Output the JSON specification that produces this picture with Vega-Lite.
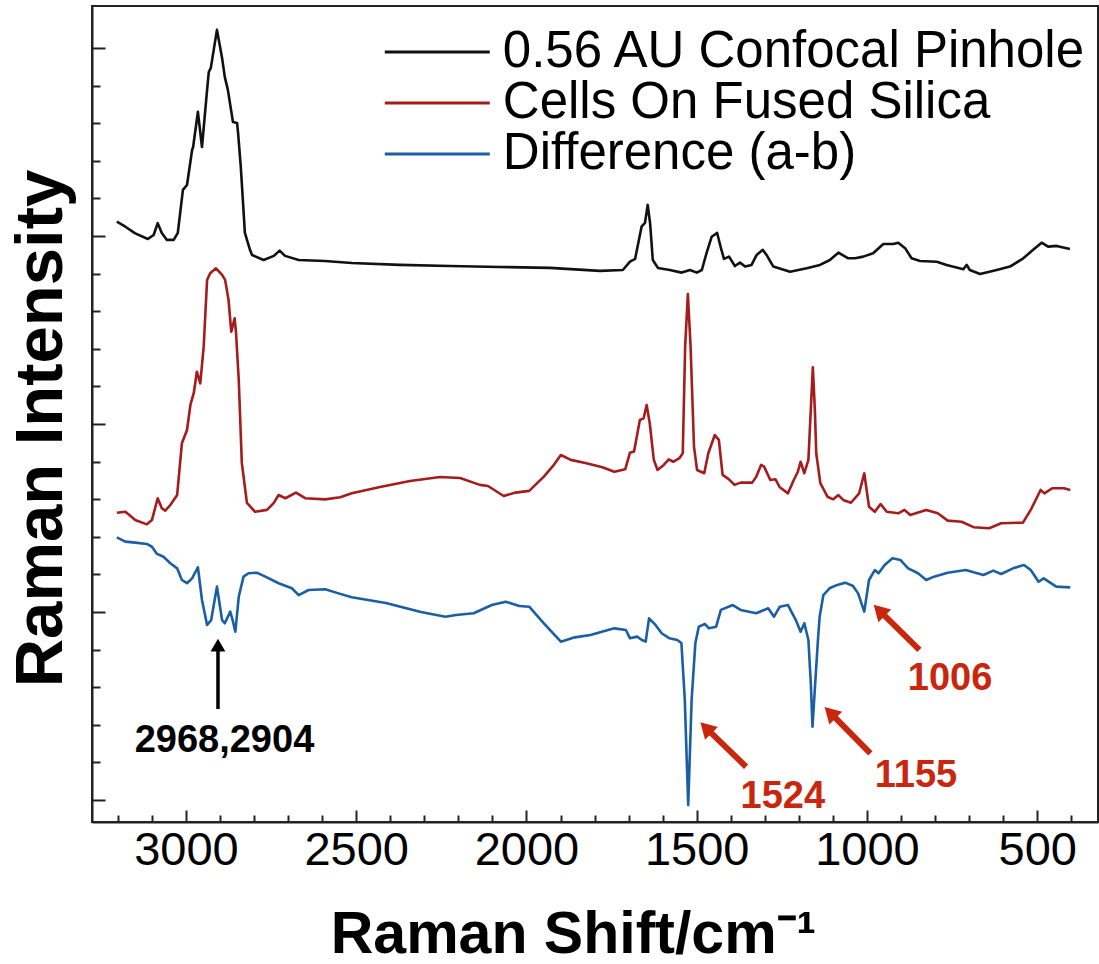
{
  "$schema": "https://vega.github.io/schema/vega-lite/v6.json",
  "width": 1006,
  "height": 816,
  "autosize": {"type": "none"},
  "padding": {"left": 92, "top": 6, "right": 1, "bottom": 142},
  "background": "white",
  "config": {
    "view": {"stroke": "#222222", "strokeWidth": 2},
    "font": "Liberation Sans"
  },
  "datasets": {
    "blackArrow": [{"x": 2906, "y": 484, "x2": 2906, "y2": 809}],
    "blackHead": [{"x": 2906, "y": 824}],
    "redArrows": [
      {"x": 1355, "y": 177, "x2": 1473, "y2": 384},
      {"x": 990, "y": 248, "x2": 1108, "y2": 465},
      {"x": 846, "y": 798, "x2": 964, "y2": 1009}
    ],
    "redHeads": [
      {"x": 1473, "y": 384},
      {"x": 1108, "y": 465},
      {"x": 964, "y": 1009}
    ],
    "blackLabels": [{"x": 2887, "y": 255, "t": "2968,2904"}],
    "redLabels": [
      {"x": 1247, "y": -42, "t": "1524"},
      {"x": 856, "y": 69, "t": "1155"},
      {"x": 756, "y": 585, "t": "1006"}
    ]
  },
  "encoding": {
    "x": {
      "field": "x", "type": "quantitative",
      "scale": {"domain": [321.5, 3276], "reverse": true, "nice": false, "zero": false},
      "axis": {
        "title": "Raman Shift/cm⁻¹",
        "titleFont": "Liberation Sans", "titleFontSize": 59, "titleFontWeight": "bold", "titleColor": "#000000",
        "titleX": 481, "titleY": 130, "titleBaseline": "alphabetic", "titleAlign": "center",
        "values": [400,500,600,700,800,900,1000,1100,1200,1300,1400,1500,1600,1700,1800,1900,2000,2100,2200,2300,2400,2500,2600,2700,2800,2900,3000,3100,3200],
        "labelExpr": "datum.value % 500 === 0 ? datum.label : ''",
        "format": "d",
        "labelFont": "Liberation Sans", "labelFontSize": 47, "labelColor": "#000000",
        "labelPadding": 17, "labelFlush": false, "labelOverlap": false,
        "tickSize": {"condition": {"test": "datum.value % 500 === 0", "value": -12}, "value": -7},
        "tickColor": "#222222", "tickWidth": 2,
        "domainColor": "#222222", "domainWidth": 2, "grid": false
      }
    },
    "y": {
      "field": "y", "type": "quantitative",
      "scale": {"domain": [-117, 4223], "nice": false, "zero": false},
      "axis": {
        "title": "Raman Intensity",
        "titleFont": "Liberation Sans", "titleFontSize": 67, "titleFontWeight": "bold", "titleColor": "#000000",
        "titleX": -31, "titleY": 422, "titleAngle": -90, "titleBaseline": "alphabetic", "titleAlign": "center",
        "values": [0,200,400,600,800,1000,1200,1400,1600,1800,2000,2200,2400,2600,2800,3000,3200,3400,3600,3800,4000],
        "labels": false,
        "tickSize": {"condition": {"test": "datum.value % 1000 === 0", "value": -13}, "value": -8},
        "tickColor": "#222222", "tickWidth": 2,
        "domainColor": "#222222", "domainWidth": 2, "grid": false
      }
    }
  },
  "layer": [
    {
      "data": {"values": [
        {"s":"0.56 AU Confocal Pinhole","x":3203,"y":3076},{"s":"0.56 AU Confocal Pinhole","x":3178,"y":3049},{"s":"0.56 AU Confocal Pinhole","x":3149,"y":3014},{"s":"0.56 AU Confocal Pinhole","x":3112,"y":2984},{"s":"0.56 AU Confocal Pinhole","x":3095,"y":3005},{"s":"0.56 AU Confocal Pinhole","x":3083,"y":3068},{"s":"0.56 AU Confocal Pinhole","x":3071,"y":3016},{"s":"0.56 AU Confocal Pinhole","x":3056,"y":2979},{"s":"0.56 AU Confocal Pinhole","x":3036,"y":2979},{"s":"0.56 AU Confocal Pinhole","x":3024,"y":3016},{"s":"0.56 AU Confocal Pinhole","x":3009,"y":3245},{"s":"0.56 AU Confocal Pinhole","x":2997,"y":3271},{"s":"0.56 AU Confocal Pinhole","x":2982,"y":3457},{"s":"0.56 AU Confocal Pinhole","x":2979,"y":3473},{"s":"0.56 AU Confocal Pinhole","x":2965,"y":3660},{"s":"0.56 AU Confocal Pinhole","x":2953,"y":3473},{"s":"0.56 AU Confocal Pinhole","x":2938,"y":3777},{"s":"0.56 AU Confocal Pinhole","x":2933,"y":3872},{"s":"0.56 AU Confocal Pinhole","x":2927,"y":3894},{"s":"0.56 AU Confocal Pinhole","x":2909,"y":4096},{"s":"0.56 AU Confocal Pinhole","x":2894,"y":3947},{"s":"0.56 AU Confocal Pinhole","x":2886,"y":3846},{"s":"0.56 AU Confocal Pinhole","x":2877,"y":3777},{"s":"0.56 AU Confocal Pinhole","x":2862,"y":3606},{"s":"0.56 AU Confocal Pinhole","x":2850,"y":3601},{"s":"0.56 AU Confocal Pinhole","x":2847,"y":3548},{"s":"0.56 AU Confocal Pinhole","x":2839,"y":3367},{"s":"0.56 AU Confocal Pinhole","x":2827,"y":3016},{"s":"0.56 AU Confocal Pinhole","x":2812,"y":2926},{"s":"0.56 AU Confocal Pinhole","x":2806,"y":2899},{"s":"0.56 AU Confocal Pinhole","x":2772,"y":2872},{"s":"0.56 AU Confocal Pinhole","x":2742,"y":2894},{"s":"0.56 AU Confocal Pinhole","x":2725,"y":2922},{"s":"0.56 AU Confocal Pinhole","x":2709,"y":2894},{"s":"0.56 AU Confocal Pinhole","x":2669,"y":2872},{"s":"0.56 AU Confocal Pinhole","x":2592,"y":2867},{"s":"0.56 AU Confocal Pinhole","x":2513,"y":2856},{"s":"0.56 AU Confocal Pinhole","x":2372,"y":2846},{"s":"0.56 AU Confocal Pinhole","x":2225,"y":2840},{"s":"0.56 AU Confocal Pinhole","x":2078,"y":2835},{"s":"0.56 AU Confocal Pinhole","x":1931,"y":2830},{"s":"0.56 AU Confocal Pinhole","x":1784,"y":2814},{"s":"0.56 AU Confocal Pinhole","x":1717,"y":2819},{"s":"0.56 AU Confocal Pinhole","x":1696,"y":2863},{"s":"0.56 AU Confocal Pinhole","x":1681,"y":2878},{"s":"0.56 AU Confocal Pinhole","x":1662,"y":3049},{"s":"0.56 AU Confocal Pinhole","x":1652,"y":3069},{"s":"0.56 AU Confocal Pinhole","x":1644,"y":3165},{"s":"0.56 AU Confocal Pinhole","x":1637,"y":3069},{"s":"0.56 AU Confocal Pinhole","x":1629,"y":2872},{"s":"0.56 AU Confocal Pinhole","x":1614,"y":2830},{"s":"0.56 AU Confocal Pinhole","x":1579,"y":2819},{"s":"0.56 AU Confocal Pinhole","x":1544,"y":2805},{"s":"0.56 AU Confocal Pinhole","x":1520,"y":2819},{"s":"0.56 AU Confocal Pinhole","x":1500,"y":2805},{"s":"0.56 AU Confocal Pinhole","x":1485,"y":2819},{"s":"0.56 AU Confocal Pinhole","x":1471,"y":2910},{"s":"0.56 AU Confocal Pinhole","x":1456,"y":2996},{"s":"0.56 AU Confocal Pinhole","x":1440,"y":3016},{"s":"0.56 AU Confocal Pinhole","x":1430,"y":2943},{"s":"0.56 AU Confocal Pinhole","x":1420,"y":2878},{"s":"0.56 AU Confocal Pinhole","x":1405,"y":2890},{"s":"0.56 AU Confocal Pinhole","x":1388,"y":2840},{"s":"0.56 AU Confocal Pinhole","x":1373,"y":2858},{"s":"0.56 AU Confocal Pinhole","x":1358,"y":2837},{"s":"0.56 AU Confocal Pinhole","x":1339,"y":2846},{"s":"0.56 AU Confocal Pinhole","x":1324,"y":2899},{"s":"0.56 AU Confocal Pinhole","x":1306,"y":2926},{"s":"0.56 AU Confocal Pinhole","x":1295,"y":2899},{"s":"0.56 AU Confocal Pinhole","x":1275,"y":2837},{"s":"0.56 AU Confocal Pinhole","x":1226,"y":2810},{"s":"0.56 AU Confocal Pinhole","x":1177,"y":2828},{"s":"0.56 AU Confocal Pinhole","x":1138,"y":2846},{"s":"0.56 AU Confocal Pinhole","x":1109,"y":2872},{"s":"0.56 AU Confocal Pinhole","x":1084,"y":2911},{"s":"0.56 AU Confocal Pinhole","x":1055,"y":2881},{"s":"0.56 AU Confocal Pinhole","x":1035,"y":2881},{"s":"0.56 AU Confocal Pinhole","x":1011,"y":2890},{"s":"0.56 AU Confocal Pinhole","x":982,"y":2908},{"s":"0.56 AU Confocal Pinhole","x":952,"y":2957},{"s":"0.56 AU Confocal Pinhole","x":923,"y":2957},{"s":"0.56 AU Confocal Pinhole","x":908,"y":2964},{"s":"0.56 AU Confocal Pinhole","x":888,"y":2935},{"s":"0.56 AU Confocal Pinhole","x":869,"y":2881},{"s":"0.56 AU Confocal Pinhole","x":844,"y":2867},{"s":"0.56 AU Confocal Pinhole","x":795,"y":2863},{"s":"0.56 AU Confocal Pinhole","x":766,"y":2846},{"s":"0.56 AU Confocal Pinhole","x":717,"y":2823},{"s":"0.56 AU Confocal Pinhole","x":707,"y":2846},{"s":"0.56 AU Confocal Pinhole","x":698,"y":2819},{"s":"0.56 AU Confocal Pinhole","x":668,"y":2798},{"s":"0.56 AU Confocal Pinhole","x":619,"y":2819},{"s":"0.56 AU Confocal Pinhole","x":580,"y":2837},{"s":"0.56 AU Confocal Pinhole","x":541,"y":2881},{"s":"0.56 AU Confocal Pinhole","x":512,"y":2926},{"s":"0.56 AU Confocal Pinhole","x":487,"y":2964},{"s":"0.56 AU Confocal Pinhole","x":468,"y":2943},{"s":"0.56 AU Confocal Pinhole","x":443,"y":2947},{"s":"0.56 AU Confocal Pinhole","x":404,"y":2931},
        {"s":"Cells On Fused Silica","x":3203,"y":1528},{"s":"Cells On Fused Silica","x":3178,"y":1533},{"s":"Cells On Fused Silica","x":3149,"y":1489},{"s":"Cells On Fused Silica","x":3115,"y":1466},{"s":"Cells On Fused Silica","x":3100,"y":1489},{"s":"Cells On Fused Silica","x":3083,"y":1605},{"s":"Cells On Fused Silica","x":3071,"y":1552},{"s":"Cells On Fused Silica","x":3061,"y":1539},{"s":"Cells On Fused Silica","x":3046,"y":1569},{"s":"Cells On Fused Silica","x":3026,"y":1622},{"s":"Cells On Fused Silica","x":3012,"y":1897},{"s":"Cells On Fused Silica","x":2997,"y":1968},{"s":"Cells On Fused Silica","x":2987,"y":2101},{"s":"Cells On Fused Silica","x":2977,"y":2165},{"s":"Cells On Fused Silica","x":2968,"y":2278},{"s":"Cells On Fused Silica","x":2958,"y":2216},{"s":"Cells On Fused Silica","x":2948,"y":2411},{"s":"Cells On Fused Silica","x":2938,"y":2766},{"s":"Cells On Fused Silica","x":2929,"y":2802},{"s":"Cells On Fused Silica","x":2912,"y":2828},{"s":"Cells On Fused Silica","x":2894,"y":2793},{"s":"Cells On Fused Silica","x":2885,"y":2766},{"s":"Cells On Fused Silica","x":2875,"y":2660},{"s":"Cells On Fused Silica","x":2867,"y":2491},{"s":"Cells On Fused Silica","x":2857,"y":2562},{"s":"Cells On Fused Silica","x":2853,"y":2484},{"s":"Cells On Fused Silica","x":2845,"y":2234},{"s":"Cells On Fused Silica","x":2836,"y":1793},{"s":"Cells On Fused Silica","x":2821,"y":1580},{"s":"Cells On Fused Silica","x":2797,"y":1533},{"s":"Cells On Fused Silica","x":2762,"y":1543},{"s":"Cells On Fused Silica","x":2742,"y":1580},{"s":"Cells On Fused Silica","x":2728,"y":1622},{"s":"Cells On Fused Silica","x":2708,"y":1605},{"s":"Cells On Fused Silica","x":2677,"y":1635},{"s":"Cells On Fused Silica","x":2650,"y":1605},{"s":"Cells On Fused Silica","x":2591,"y":1599},{"s":"Cells On Fused Silica","x":2547,"y":1610},{"s":"Cells On Fused Silica","x":2513,"y":1631},{"s":"Cells On Fused Silica","x":2430,"y":1665},{"s":"Cells On Fused Silica","x":2342,"y":1697},{"s":"Cells On Fused Silica","x":2254,"y":1718},{"s":"Cells On Fused Silica","x":2195,"y":1713},{"s":"Cells On Fused Silica","x":2137,"y":1676},{"s":"Cells On Fused Silica","x":2113,"y":1670},{"s":"Cells On Fused Silica","x":2067,"y":1617},{"s":"Cells On Fused Silica","x":2032,"y":1635},{"s":"Cells On Fused Silica","x":1992,"y":1644},{"s":"Cells On Fused Silica","x":1949,"y":1720},{"s":"Cells On Fused Silica","x":1922,"y":1777},{"s":"Cells On Fused Silica","x":1899,"y":1835},{"s":"Cells On Fused Silica","x":1870,"y":1809},{"s":"Cells On Fused Silica","x":1824,"y":1791},{"s":"Cells On Fused Silica","x":1777,"y":1770},{"s":"Cells On Fused Silica","x":1742,"y":1746},{"s":"Cells On Fused Silica","x":1710,"y":1759},{"s":"Cells On Fused Silica","x":1696,"y":1847},{"s":"Cells On Fused Silica","x":1684,"y":1853},{"s":"Cells On Fused Silica","x":1667,"y":2021},{"s":"Cells On Fused Silica","x":1656,"y":2030},{"s":"Cells On Fused Silica","x":1647,"y":2101},{"s":"Cells On Fused Silica","x":1638,"y":2004},{"s":"Cells On Fused Silica","x":1626,"y":1809},{"s":"Cells On Fused Silica","x":1615,"y":1755},{"s":"Cells On Fused Silica","x":1597,"y":1782},{"s":"Cells On Fused Silica","x":1582,"y":1812},{"s":"Cells On Fused Silica","x":1569,"y":1799},{"s":"Cells On Fused Silica","x":1551,"y":1818},{"s":"Cells On Fused Silica","x":1541,"y":1844},{"s":"Cells On Fused Silica","x":1534,"y":2411},{"s":"Cells On Fused Silica","x":1526,"y":2691},{"s":"Cells On Fused Silica","x":1518,"y":2411},{"s":"Cells On Fused Silica","x":1508,"y":1879},{"s":"Cells On Fused Silica","x":1499,"y":1755},{"s":"Cells On Fused Silica","x":1478,"y":1738},{"s":"Cells On Fused Silica","x":1466,"y":1844},{"s":"Cells On Fused Silica","x":1447,"y":1941},{"s":"Cells On Fused Silica","x":1435,"y":1915},{"s":"Cells On Fused Silica","x":1424,"y":1729},{"s":"Cells On Fused Silica","x":1406,"y":1707},{"s":"Cells On Fused Silica","x":1389,"y":1676},{"s":"Cells On Fused Silica","x":1371,"y":1688},{"s":"Cells On Fused Silica","x":1337,"y":1688},{"s":"Cells On Fused Silica","x":1325,"y":1720},{"s":"Cells On Fused Silica","x":1311,"y":1782},{"s":"Cells On Fused Silica","x":1302,"y":1773},{"s":"Cells On Fused Silica","x":1284,"y":1702},{"s":"Cells On Fused Silica","x":1269,"y":1706},{"s":"Cells On Fused Silica","x":1256,"y":1663},{"s":"Cells On Fused Silica","x":1232,"y":1631},{"s":"Cells On Fused Silica","x":1215,"y":1702},{"s":"Cells On Fused Silica","x":1203,"y":1746},{"s":"Cells On Fused Silica","x":1195,"y":1799},{"s":"Cells On Fused Silica","x":1184,"y":1738},{"s":"Cells On Fused Silica","x":1172,"y":1809},{"s":"Cells On Fused Silica","x":1165,"y":2074},{"s":"Cells On Fused Silica","x":1159,"y":2302},{"s":"Cells On Fused Silica","x":1153,"y":2074},{"s":"Cells On Fused Silica","x":1149,"y":1844},{"s":"Cells On Fused Silica","x":1137,"y":1685},{"s":"Cells On Fused Silica","x":1116,"y":1613},{"s":"Cells On Fused Silica","x":1099,"y":1599},{"s":"Cells On Fused Silica","x":1084,"y":1622},{"s":"Cells On Fused Silica","x":1070,"y":1596},{"s":"Cells On Fused Silica","x":1047,"y":1581},{"s":"Cells On Fused Silica","x":1023,"y":1631},{"s":"Cells On Fused Silica","x":1008,"y":1738},{"s":"Cells On Fused Silica","x":994,"y":1560},{"s":"Cells On Fused Silica","x":977,"y":1533},{"s":"Cells On Fused Silica","x":960,"y":1574},{"s":"Cells On Fused Silica","x":942,"y":1533},{"s":"Cells On Fused Silica","x":908,"y":1525},{"s":"Cells On Fused Silica","x":890,"y":1543},{"s":"Cells On Fused Silica","x":873,"y":1516},{"s":"Cells On Fused Silica","x":826,"y":1543},{"s":"Cells On Fused Silica","x":792,"y":1525},{"s":"Cells On Fused Silica","x":763,"y":1486},{"s":"Cells On Fused Silica","x":722,"y":1480},{"s":"Cells On Fused Silica","x":687,"y":1451},{"s":"Cells On Fused Silica","x":641,"y":1445},{"s":"Cells On Fused Silica","x":606,"y":1472},{"s":"Cells On Fused Silica","x":542,"y":1475},{"s":"Cells On Fused Silica","x":519,"y":1543},{"s":"Cells On Fused Silica","x":490,"y":1649},{"s":"Cells On Fused Silica","x":479,"y":1631},{"s":"Cells On Fused Silica","x":456,"y":1658},{"s":"Cells On Fused Silica","x":421,"y":1658},{"s":"Cells On Fused Silica","x":403,"y":1649},
        {"s":"Difference (a-b)","x":3203,"y":1397},{"s":"Difference (a-b)","x":3178,"y":1374},{"s":"Difference (a-b)","x":3149,"y":1369},{"s":"Difference (a-b)","x":3115,"y":1362},{"s":"Difference (a-b)","x":3100,"y":1347},{"s":"Difference (a-b)","x":3085,"y":1309},{"s":"Difference (a-b)","x":3066,"y":1294},{"s":"Difference (a-b)","x":3046,"y":1259},{"s":"Difference (a-b)","x":3026,"y":1232},{"s":"Difference (a-b)","x":3012,"y":1170},{"s":"Difference (a-b)","x":2997,"y":1153},{"s":"Difference (a-b)","x":2982,"y":1179},{"s":"Difference (a-b)","x":2965,"y":1238},{"s":"Difference (a-b)","x":2953,"y":1064},{"s":"Difference (a-b)","x":2938,"y":931},{"s":"Difference (a-b)","x":2926,"y":957},{"s":"Difference (a-b)","x":2909,"y":1135},{"s":"Difference (a-b)","x":2894,"y":957},{"s":"Difference (a-b)","x":2886,"y":940},{"s":"Difference (a-b)","x":2870,"y":1002},{"s":"Difference (a-b)","x":2863,"y":957},{"s":"Difference (a-b)","x":2855,"y":895},{"s":"Difference (a-b)","x":2845,"y":1081},{"s":"Difference (a-b)","x":2831,"y":1188},{"s":"Difference (a-b)","x":2816,"y":1206},{"s":"Difference (a-b)","x":2792,"y":1209},{"s":"Difference (a-b)","x":2767,"y":1188},{"s":"Difference (a-b)","x":2728,"y":1153},{"s":"Difference (a-b)","x":2689,"y":1126},{"s":"Difference (a-b)","x":2669,"y":1090},{"s":"Difference (a-b)","x":2640,"y":1117},{"s":"Difference (a-b)","x":2591,"y":1121},{"s":"Difference (a-b)","x":2552,"y":1099},{"s":"Difference (a-b)","x":2513,"y":1078},{"s":"Difference (a-b)","x":2413,"y":1048},{"s":"Difference (a-b)","x":2310,"y":1000},{"s":"Difference (a-b)","x":2238,"y":975},{"s":"Difference (a-b)","x":2207,"y":984},{"s":"Difference (a-b)","x":2155,"y":993},{"s":"Difference (a-b)","x":2102,"y":1037},{"s":"Difference (a-b)","x":2061,"y":1055},{"s":"Difference (a-b)","x":2021,"y":1032},{"s":"Difference (a-b)","x":1992,"y":1028},{"s":"Difference (a-b)","x":1949,"y":940},{"s":"Difference (a-b)","x":1899,"y":842},{"s":"Difference (a-b)","x":1858,"y":865},{"s":"Difference (a-b)","x":1812,"y":878},{"s":"Difference (a-b)","x":1742,"y":913},{"s":"Difference (a-b)","x":1708,"y":904},{"s":"Difference (a-b)","x":1696,"y":860},{"s":"Difference (a-b)","x":1675,"y":869},{"s":"Difference (a-b)","x":1661,"y":851},{"s":"Difference (a-b)","x":1650,"y":842},{"s":"Difference (a-b)","x":1640,"y":966},{"s":"Difference (a-b)","x":1621,"y":931},{"s":"Difference (a-b)","x":1603,"y":887},{"s":"Difference (a-b)","x":1580,"y":860},{"s":"Difference (a-b)","x":1557,"y":851},{"s":"Difference (a-b)","x":1545,"y":835},{"s":"Difference (a-b)","x":1535,"y":532},{"s":"Difference (a-b)","x":1525,"y":-27},{"s":"Difference (a-b)","x":1515,"y":532},{"s":"Difference (a-b)","x":1504,"y":835},{"s":"Difference (a-b)","x":1494,"y":922},{"s":"Difference (a-b)","x":1476,"y":936},{"s":"Difference (a-b)","x":1464,"y":913},{"s":"Difference (a-b)","x":1443,"y":922},{"s":"Difference (a-b)","x":1429,"y":1011},{"s":"Difference (a-b)","x":1394,"y":1037},{"s":"Difference (a-b)","x":1371,"y":1011},{"s":"Difference (a-b)","x":1325,"y":993},{"s":"Difference (a-b)","x":1290,"y":1020},{"s":"Difference (a-b)","x":1273,"y":975},{"s":"Difference (a-b)","x":1256,"y":1028},{"s":"Difference (a-b)","x":1232,"y":1037},{"s":"Difference (a-b)","x":1209,"y":957},{"s":"Difference (a-b)","x":1195,"y":895},{"s":"Difference (a-b)","x":1184,"y":940},{"s":"Difference (a-b)","x":1172,"y":851},{"s":"Difference (a-b)","x":1165,"y":622},{"s":"Difference (a-b)","x":1160,"y":390},{"s":"Difference (a-b)","x":1152,"y":622},{"s":"Difference (a-b)","x":1144,"y":851},{"s":"Difference (a-b)","x":1139,"y":975},{"s":"Difference (a-b)","x":1128,"y":1090},{"s":"Difference (a-b)","x":1110,"y":1126},{"s":"Difference (a-b)","x":1087,"y":1144},{"s":"Difference (a-b)","x":1064,"y":1156},{"s":"Difference (a-b)","x":1041,"y":1138},{"s":"Difference (a-b)","x":1026,"y":1099},{"s":"Difference (a-b)","x":1008,"y":1002},{"s":"Difference (a-b)","x":994,"y":1170},{"s":"Difference (a-b)","x":977,"y":1223},{"s":"Difference (a-b)","x":966,"y":1206},{"s":"Difference (a-b)","x":948,"y":1250},{"s":"Difference (a-b)","x":925,"y":1286},{"s":"Difference (a-b)","x":902,"y":1277},{"s":"Difference (a-b)","x":879,"y":1232},{"s":"Difference (a-b)","x":850,"y":1206},{"s":"Difference (a-b)","x":826,"y":1170},{"s":"Difference (a-b)","x":803,"y":1188},{"s":"Difference (a-b)","x":763,"y":1209},{"s":"Difference (a-b)","x":710,"y":1223},{"s":"Difference (a-b)","x":658,"y":1197},{"s":"Difference (a-b)","x":629,"y":1220},{"s":"Difference (a-b)","x":606,"y":1202},{"s":"Difference (a-b)","x":571,"y":1232},{"s":"Difference (a-b)","x":539,"y":1250},{"s":"Difference (a-b)","x":519,"y":1223},{"s":"Difference (a-b)","x":496,"y":1161},{"s":"Difference (a-b)","x":481,"y":1179},{"s":"Difference (a-b)","x":444,"y":1135},{"s":"Difference (a-b)","x":403,"y":1131}
      ]},
      "mark": {"type": "line", "strokeWidth": 2.6, "strokeJoin": "round", "clip": true},
      "encoding": {
        "color": {
          "field": "s", "type": "nominal",
          "scale": {
            "domain": ["0.56 AU Confocal Pinhole", "Cells On Fused Silica", "Difference (a-b)"],
            "range": ["#111111", "#a51c1c", "#1a5fa3"]
          },
          "legend": {
            "title": null, "orient": "none", "legendX": 290, "legendY": 23,
            "clipHeight": 46,
            "symbolType": "M-2.5,0H2.5", "symbolSize": 1764, "symbolStrokeWidth": 3,
            "symbolOffset": 29.8, "symbolFillColor": "transparent",
            "labelFont": "Liberation Sans", "labelFontSize": 51, "labelColor": "#000000",
            "labelLimit": 900, "labelOffset": 40, "rowPadding": 0
          }
        }
      }
    },
    {
      "data": {"name": "blackArrow"},
      "mark": {"type": "rule", "color": "#000000", "strokeWidth": 3.5},
      "encoding": {
        "x2": {"field": "x2"},
        "y2": {"field": "y2"}
      }
    },
    {
      "data": {"name": "blackHead"},
      "mark": {"type": "point", "shape": "triangle-up", "filled": true, "color": "#000000", "size": 220, "opacity": 1}
    },
    {
      "data": {"name": "redArrows"},
      "mark": {"type": "rule", "color": "#c9260e", "strokeWidth": 6},
      "encoding": {
        "x2": {"field": "x2"},
        "y2": {"field": "y2"}
      }
    },
    {
      "data": {"name": "redHeads"},
      "mark": {"type": "point", "shape": "triangle-up", "filled": true, "color": "#c9260e", "size": 330, "angle": 315, "opacity": 1}
    },
    {
      "data": {"name": "blackLabels"},
      "mark": {"type": "text", "font": "Liberation Sans", "fontSize": 38, "fontWeight": "bold", "color": "#000000", "align": "center", "baseline": "alphabetic"},
      "encoding": {
        "text": {"field": "t"}
      }
    },
    {
      "data": {"name": "redLabels"},
      "mark": {"type": "text", "font": "Liberation Sans", "fontSize": 38, "fontWeight": "bold", "color": "#c9260e", "align": "center", "baseline": "alphabetic"},
      "encoding": {
        "text": {"field": "t"}
      }
    }
  ]
}
